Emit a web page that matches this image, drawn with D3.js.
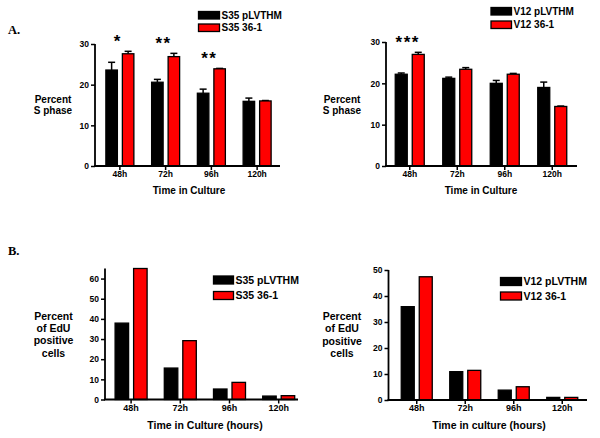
<!DOCTYPE html>
<html><head><meta charset="utf-8">
<script src="https://cdn.jsdelivr.net/npm/d3@7"></script>
<style>
html,body{margin:0;padding:0;background:#fff;}
svg text{font-family:"Liberation Sans",Arial,sans-serif;font-weight:bold;fill:#000;}
</style></head>
<body><svg id="c" width="600" height="438"></svg>
<script>
// ---------- data ----------
const categories = ["48h", "72h", "96h", "120h"];

// Panel A (left): S35, percent S phase
const a1Labels = ["S35 pLVTHM", "S35 36-1"];
const a1Ctrl = [23.6, 20.6, 17.9, 15.9];
const a1CtrlErr = [1.9, 0.7, 1.0, 0.8];
const a1Exp = [27.6, 26.9, 23.9, 16.0];
const a1ExpErr = [0.6, 0.8, 0.1, 0.1];
const a1Sig = ["*", "**", "**", ""];
const a1Ticks = [0, 10, 20, 30];

// Panel A (right): V12, percent S phase
const a2Labels = ["V12 pLVTHM", "V12 36-1"];
const a2Ctrl = [22.2, 21.2, 20.0, 19.0];
const a2CtrlErr = [0.3, 0.3, 0.7, 1.3];
const a2Exp = [27.0, 23.4, 22.2, 14.4];
const a2ExpErr = [0.5, 0.4, 0.2, 0.1];
const a2Sig = ["***", "", "", ""];
const a2Ticks = [0, 10, 20, 30];

// Panel B (left): S35, percent EdU positive cells
const b1Labels = ["S35 pLVTHM", "S35 36-1"];
const b1Ctrl = [37.9, 15.6, 5.2, 1.7];
const b1Exp = [65.0, 29.2, 8.5, 1.9];
const b1Ticks = [0, 10, 20, 30, 40, 50, 60];

// Panel B (right): V12, percent EdU positive cells
const b2Labels = ["V12 pLVTHM", "V12 36-1"];
const b2Ctrl = [35.9, 10.9, 3.8, 1.0];
const b2Exp = [47.4, 11.4, 5.1, 1.0];
const b2Ticks = [0, 10, 20, 30, 40, 50];

// ---------- drawing ----------
const svg = d3.select("#c");
svg.append("rect").attr("width", 600).attr("height", 438).attr("fill", "#fff");

function panel(o) {
  const g = svg.append("g");
  const y = d3.scaleLinear().domain([0, o.ymax]).range([o.y0, o.yTop]);
  const x0 = d3.scaleBand().domain(categories).range(o.xr).padding(0);
  const groupW = 2 * o.bw + o.gap;
  const x1 = d3.scaleBand().domain([0, 1]).range([0, groupW])
    .paddingInner(o.gap / (o.bw + o.gap)).paddingOuter(0);
  const off = (x0.bandwidth() - groupW) / 2;

  const rows = categories.map((c, i) => ({
    c, i,
    v: [o.ctrl[i], o.exp[i]],
    e: [o.ctrlErr ? o.ctrlErr[i] : 0, o.expErr ? o.expErr[i] : 0]
  }));

  // bars
  rows.forEach(r => {
    [0, 1].forEach(s => {
      const bx = x0(r.c) + off + x1(s);
      const top = y(r.v[s]);
      // error bars
      if (r.e[s] > 0) {
        const cx = bx + o.bw / 2;
        g.append("line").attr("x1", cx).attr("x2", cx)
          .attr("y1", top).attr("y2", y(r.v[s] + r.e[s]))
          .attr("stroke", "#000").attr("stroke-width", 1.5);
        g.append("line").attr("x1", cx - 3.5).attr("x2", cx + 3.5)
          .attr("y1", y(r.v[s] + r.e[s])).attr("y2", y(r.v[s] + r.e[s]))
          .attr("stroke", "#000").attr("stroke-width", 1.5);
      }
      g.append("rect").attr("x", bx).attr("y", top)
        .attr("width", o.bw).attr("height", o.y0 - top)
        .attr("fill", s === 0 ? "#000" : "#ff0000")
        .attr("stroke", "#000").attr("stroke-width", 1.3);
    });
    if (o.sig && o.sig[r.i]) {
      const hi = Math.max(r.v[0] + r.e[0], r.v[1] + r.e[1]);
      g.append("text").attr("x", x0(r.c) + x0.bandwidth() / 2 - 2)
        .attr("y", y(hi) - 14 + 10)
        .attr("text-anchor", "middle")
        .attr("font-size", 17).attr("letter-spacing", 1.5)
        .text(o.sig[r.i]);
    }
  });

  // y axis
  const ya = d3.axisLeft(y).tickValues(o.ticks).tickSize(4).tickPadding(2).tickFormat(d3.format("d"));
  const yg = g.append("g").attr("transform", `translate(${o.ax},0)`).call(ya);
  yg.select(".domain").remove();
  yg.selectAll(".tick line").attr("stroke", "#000").attr("stroke-width", 1.5);
  yg.selectAll(".tick text").attr("font-size", o.tfs).attr("font-family", "Liberation Sans, Arial, sans-serif").attr("font-weight", "bold");
  g.append("line").attr("x1", o.ax).attr("x2", o.ax).attr("y1", o.y0).attr("y2", y(o.ymax))
    .attr("stroke", "#000").attr("stroke-width", 1.8);

  // x axis
  const xa = d3.axisBottom(x0).tickSize(4).tickPadding(1);
  const xg = g.append("g").attr("transform", `translate(0,${o.y0})`).call(xa);
  xg.select(".domain").remove();
  xg.selectAll(".tick line").attr("stroke", "#000").attr("stroke-width", 1.5);
  xg.selectAll(".tick text").attr("font-size", o.xfs).attr("font-family", "Liberation Sans, Arial, sans-serif").attr("font-weight", "bold");
  g.append("line").attr("x1", o.ax - 1).attr("x2", o.axEnd).attr("y1", o.y0).attr("y2", o.y0)
    .attr("stroke", "#000").attr("stroke-width", 1.8);

  // x title
  g.append("text").attr("x", o.xtX).attr("y", o.xtY).attr("text-anchor", "middle")
    .attr("font-size", o.titleFs).text(o.xTitle);
  // y title
  o.yTitle.forEach((t, i) => {
    g.append("text").attr("x", o.ytX).attr("y", o.ytY + i * o.ytLh).attr("text-anchor", "middle")
      .attr("font-size", o.titleFs).text(t);
  });
  // legend
  o.labels.forEach((t, i) => {
    const ly = o.legY + i * o.legDy;
    g.append("rect").attr("x", o.legX).attr("y", ly).attr("width", o.legW).attr("height", o.legH)
      .attr("fill", i === 0 ? "#000" : "#ff0000").attr("stroke", "#000").attr("stroke-width", 1.3);
    g.append("text").attr("x", o.legX + o.legW + 2).attr("y", ly + o.legH - 0.5)
      .attr("font-size", o.legFs).text(t);
  });
}

panel({
  ctrl: a1Ctrl, ctrlErr: a1CtrlErr, exp: a1Exp, expErr: a1ExpErr, sig: a1Sig, ticks: a1Ticks,
  labels: a1Labels, ymax: 30, y0: 166, yTop: 44, ax: 95, axEnd: 280, xr: [97, 280], bw: 11.5, gap: 5,
  tfs: 8.5, xfs: 8.5, titleFs: 10, xTitle: "Time in Culture", xtX: 189, xtY: 194,
  yTitle: ["Percent", "S phase"], ytX: 53, ytY: 102.5, ytLh: 11,
  legX: 198.5, legY: 11.5, legDy: 12.5, legW: 21, legH: 7.5, legFs: 10
});
panel({
  ctrl: a2Ctrl, ctrlErr: a2CtrlErr, exp: a2Exp, expErr: a2ExpErr, sig: a2Sig, ticks: a2Ticks,
  labels: a2Labels, ymax: 30, y0: 166, yTop: 42, ax: 386, axEnd: 577, xr: [386, 576], bw: 12, gap: 5,
  tfs: 8.5, xfs: 8.5, titleFs: 10, xTitle: "Time in Culture", xtX: 481, xtY: 194,
  yTitle: ["Percent", "S phase"], ytX: 342, ytY: 102.5, ytLh: 11,
  legX: 491, legY: 7.5, legDy: 13.5, legW: 20.5, legH: 7.5, legFs: 10
});
panel({
  ctrl: b1Ctrl, exp: b1Exp, ticks: b1Ticks,
  labels: b1Labels, ymax: 65, y0: 399.5, yTop: 268.5, ax: 105, axEnd: 298, xr: [106.5, 303.3], bw: 13.5, gap: 5,
  tfs: 8.5, xfs: 9, titleFs: 10.5, xTitle: "Time in Culture (hours)", xtX: 205, xtY: 428.5,
  yTitle: ["Percent", "of EdU", "positive", "cells"], ytX: 53.5, ytY: 319.5, ytLh: 12.4,
  legX: 213.5, legY: 276, legDy: 15.5, legW: 20, legH: 8, legFs: 10.5
});
panel({
  ctrl: b2Ctrl, exp: b2Exp, ticks: b2Ticks,
  labels: b2Labels, ymax: 50, y0: 400, yTop: 270, ax: 388.5, axEnd: 587, xr: [392.5, 586.5], bw: 13, gap: 5,
  tfs: 8.5, xfs: 9, titleFs: 10.5, xTitle: "Time in culture (hours)", xtX: 489, xtY: 428.5,
  yTitle: ["Percent", "of EdU", "positive", "cells"], ytX: 342, ytY: 320, ytLh: 12.4,
  legX: 500.5, legY: 277.5, legDy: 14.5, legW: 21, legH: 8, legFs: 10.5
});

// panel letters
svg.append("text").attr("x", 8).attr("y", 34).attr("font-size", 12.5)
  .style("font-family", "'Liberation Serif','Times New Roman',serif").text("A.");
svg.append("text").attr("x", 8).attr("y", 255).attr("font-size", 12.5)
  .style("font-family", "'Liberation Serif','Times New Roman',serif").text("B.");
</script></body></html>
